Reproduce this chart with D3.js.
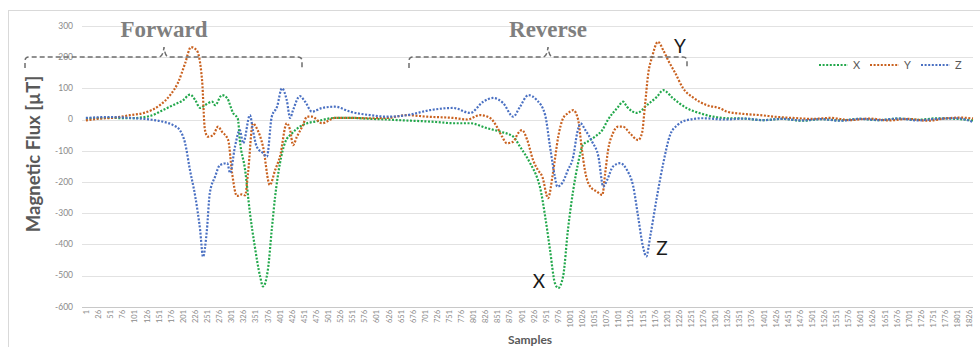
<!DOCTYPE html>
<html>
<head>
<meta charset="utf-8">
<script src="https://cdn.jsdelivr.net/npm/d3@7"></script>
<style>
  body { margin: 0; background: #fff; }
  svg { display: block; }
</style>
</head>
<body>
<div id="chart"></div>
<script>
// samples (x) and magnetic flux in µT, one pair of arrays per axis
var xSamples = [1, 51, 92, 133, 160, 181, 202, 216, 227, 237, 247, 262, 268, 282, 293, 305, 315, 319, 330, 340,
  350, 361, 367, 377, 385, 392, 402, 412, 427, 443, 458, 474, 516, 553, 590, 623, 660, 691, 725, 760,
  795, 830, 857, 884, 898, 919, 935, 939, 950, 960, 970, 977, 987, 997, 1008, 1018, 1028, 1043, 1053, 1068,
  1080, 1099, 1111, 1119, 1140, 1160, 1181, 1194, 1214, 1243, 1270, 1297, 1326, 1360, 1400, 1440, 1480, 1520, 1560, 1600,
  1640, 1680, 1720, 1760, 1800, 1834];
var xValues = [3, 5, 4, 11, 30, 46, 62, 80, 62, 37, 46, 57, 46, 78, 68, 21, 2, -66, -162, -300,
  -407, -503, -535, -482, -354, -247, -140, -76, -44, -23, -12, -7, 5, 5, 2, 0, -3, -5, -8, -12,
  -12, -28, -39, -55, -87, -140, -194, -215, -311, -418, -524, -540, -503, -354, -226, -140, -82, -66, -55, -34,
  0, 37, 57, 41, 21, 46, 73, 94, 68, 36, 20, 9, 4, 3, -2, 2, -4, 1, -3, 2,
  -2, 3, -1, 4, 2, -3];

var ySamples = [1, 30, 61, 92, 123, 154, 175, 191, 206, 218, 230, 241, 247, 253, 264, 274, 282, 295, 303, 313,
  323, 330, 336, 346, 354, 367, 381, 392, 402, 416, 423, 429, 437, 448, 458, 468, 489, 516, 553, 588,
  623, 665, 706, 760, 789, 815, 836, 850, 861, 871, 884, 894, 902, 913, 925, 935, 944, 956, 966, 977,
  987, 997, 1008, 1018, 1026, 1032, 1043, 1057, 1068, 1074, 1080, 1090, 1101, 1111, 1125, 1142, 1150, 1156, 1163, 1171,
  1183, 1194, 1204, 1219, 1235, 1256, 1284, 1311, 1326, 1359, 1394, 1430, 1462, 1500, 1540, 1580, 1620, 1660, 1700, 1740,
  1780, 1810, 1834];
var yValues = [-3, 3, 6, 14, 22, 46, 78, 117, 180, 232, 222, 126, -34, -55, -50, -23, -39, -66, -171, -245,
  -240, -243, -171, -12, -28, -87, -210, -162, -119, -12, -34, -82, -55, -23, 9, 9, -12, 5, 5, 4,
  5, 14, 9, 5, 0, 14, 5, -23, -55, -76, -71, -44, -34, -66, -130, -162, -183, -252, -172, -55,
  4, 20, 30, 0, -98, -162, -215, -231, -242, -172, -98, -44, -23, -23, -44, -66, -44, 41, 148, 201,
  249, 222, 190, 148, 100, 70, 46, 36, 25, 18, 14, 8, 5, 2, 5, -2, 3, -3, 2, -4,
  4, 6, 3];

var zSamples = [1, 51, 92, 133, 160, 181, 195, 206, 216, 227, 237, 243, 251, 257, 268, 278, 293, 299, 309, 319,
  326, 340, 346, 354, 367, 375, 385, 396, 406, 416, 423, 429, 443, 454, 468, 489, 516, 547, 588, 623,
  665, 712, 760, 795, 822, 842, 863, 884, 898, 915, 933, 950, 960, 970, 975, 985, 997, 1008, 1016, 1023,
  1033, 1047, 1060, 1070, 1078, 1090, 1105, 1119, 1132, 1142, 1152, 1159, 1167, 1181, 1194, 1208, 1223, 1243, 1276, 1320,
  1360, 1400, 1440, 1480, 1520, 1560, 1600, 1640, 1680, 1720, 1760, 1800, 1834];
var zValues = [5, 8, 5, 0, -7, -18, -34, -76, -162, -247, -354, -440, -354, -236, -183, -146, -140, -171, -87, -34,
  -76, 14, -34, -87, -108, -119, 9, 41, 100, 62, 5, 30, 75, 57, 25, 37, 41, 25, 14, 9,
  14, 30, 37, 21, 57, 69, 53, 9, 41, 78, 62, 14, -87, -183, -215, -204, -162, -119, -44, -12,
  -34, -71, -119, -215, -194, -151, -140, -162, -215, -311, -407, -439, -375, -247, -140, -50, -18, -2, 4, 0,
  3, -2, 2, -3, 1, -4, 2, -2, 3, -3, 2, 4, -8];

var seriesNames = ["X", "Y", "Z"];
var seriesColors = ["#23a84c", "#c9611f", "#4a70c2"];
var yTicks = [300, 200, 100, 0, -100, -200, -300, -400, -500, -600];
var sampleTicks = d3.range(1, 1827, 25);

var width = 980, height = 347;
var svg = d3.select("#chart").append("svg")
  .attr("width", width)
  .attr("height", height)
  .style("font-family", "Lato, 'Open Sans', sans-serif");

// chart frame
svg.append("rect")
  .attr("x", 8.5).attr("y", 10.5)
  .attr("width", 990).attr("height", 360)
  .attr("fill", "none")
  .attr("stroke", "#d9d9d9");

var x = d3.scaleLinear().domain([-5, 1834]).range([83, 973]);
var y = d3.scaleLinear().domain([-600, 300]).range([306.7, 25.9]);

// horizontal gridlines
svg.append("g")
  .selectAll("line")
  .data(yTicks)
  .join("line")
  .attr("x1", 82).attr("x2", 973)
  .attr("y1", function (d) { return Math.round(y(d)) + 0.5; })
  .attr("y2", function (d) { return Math.round(y(d)) + 0.5; })
  .attr("stroke", function (d) { return d === -600 ? "#c8c8c8" : "#e2e2e2"; })
  .attr("stroke-width", 1);

// y tick labels
svg.append("g")
  .selectAll("text")
  .data(yTicks)
  .join("text")
  .attr("x", 73)
  .attr("y", function (d) { return y(d); })
  .attr("dy", "0.35em")
  .attr("text-anchor", "end")
  .attr("font-size", 8.5)
  .attr("fill", "#8a8a8a")
  .text(function (d) { return d; });

// x tick labels, rotated
svg.append("g")
  .selectAll("text")
  .data(sampleTicks)
  .join("text")
  .attr("transform", function (d) { return "translate(" + (x(d) + 0.5) + ",310) rotate(-90)"; })
  .attr("dy", "0.35em")
  .attr("text-anchor", "end")
  .attr("font-size", 7.5)
  .attr("fill", "#8a8a8a")
  .text(function (d) { return d; });

// axis titles
svg.append("text")
  .attr("transform", "translate(40,154) rotate(-90)")
  .attr("text-anchor", "middle")
  .attr("font-size", 18.5)
  .attr("font-weight", "bold")
  .attr("fill", "#595959")
  .text("Magnetic Flux [µT]");

svg.append("text")
  .attr("x", 530).attr("y", 344)
  .attr("text-anchor", "middle")
  .attr("font-size", 12)
  .attr("font-weight", "bold")
  .attr("fill", "#595959")
  .text("Samples");

// the three series
var series = [
  { name: "X", samples: xSamples, values: xValues },
  { name: "Y", samples: ySamples, values: yValues },
  { name: "Z", samples: zSamples, values: zValues }
];
var color = d3.scaleOrdinal().domain(seriesNames).range(seriesColors);

var line = d3.line()
  .x(function (d) { return x(d[0]); })
  .y(function (d) { return y(d[1]); })
  .curve(d3.curveMonotoneX);

svg.append("g")
  .selectAll("path")
  .data(series)
  .join("path")
  .attr("fill", "none")
  .attr("stroke", function (d) { return color(d.name); })
  .attr("stroke-width", 2.2)
  .attr("stroke-dasharray", "2,1.6")
  .attr("d", function (d) { return line(d3.zip(d.samples, d.values)); });

// legend
var legend = svg.append("g")
  .selectAll("g")
  .data(seriesNames)
  .join("g")
  .attr("transform", function (d, i) { return "translate(" + (819 + i * 51) + ",65)"; });
legend.append("line")
  .attr("x1", 0).attr("x2", 29)
  .attr("stroke", function (d) { return color(d); })
  .attr("stroke-width", 2)
  .attr("stroke-dasharray", "2,1.6");
legend.append("text")
  .attr("x", 34).attr("dy", "0.35em")
  .attr("font-size", 11)
  .attr("fill", "#595959")
  .text(function (d) { return d; });

// Forward / Reverse braces
var braceStyle = function (sel) {
  sel.attr("fill", "none")
    .attr("stroke", "#6e6e6e")
    .attr("stroke-width", 1.5)
    .attr("stroke-dasharray", "5,3");
};
function brace(x0, x1, xm) {
  return "M" + x0 + ",68 L" + x0 + ",61 Q" + x0 + ",57 " + (x0 + 4) + ",57 L" + (xm - 5) + ",57 Q" + (xm - 1) + ",57 " +
    xm + ",47 Q" + (xm + 1) + ",57 " + (xm + 5) + ",57 L" + (x1 - 4) + ",57 Q" + x1 + ",57 " + x1 + ",61 L" + x1 + ",68";
}
svg.append("path").attr("d", brace(25, 302, 164)).call(braceStyle);
svg.append("path").attr("d", brace(409, 687, 548)).call(braceStyle);

svg.append("text")
  .attr("x", 164).attr("y", 37)
  .attr("text-anchor", "middle")
  .attr("font-family", "'Liberation Serif', 'DejaVu Serif', serif")
  .attr("font-weight", "bold")
  .attr("font-size", 23)
  .attr("fill", "#7f7f7f")
  .text("Forward");
svg.append("text")
  .attr("x", 548).attr("y", 37)
  .attr("text-anchor", "middle")
  .attr("font-family", "'Liberation Serif', 'DejaVu Serif', serif")
  .attr("font-weight", "bold")
  .attr("font-size", 23)
  .attr("fill", "#7f7f7f")
  .text("Reverse");

// peak labels
var peakLabels = [["X", 539, 288], ["Y", 680, 53], ["Z", 662, 255]];
svg.append("g")
  .selectAll("text")
  .data(peakLabels)
  .join("text")
  .attr("x", function (d) { return d[1]; })
  .attr("y", function (d) { return d[2]; })
  .attr("text-anchor", "middle")
  .attr("font-size", 19)
  .attr("fill", "#1a1a1a")
  .text(function (d) { return d[0]; });
</script>
</body>
</html>
